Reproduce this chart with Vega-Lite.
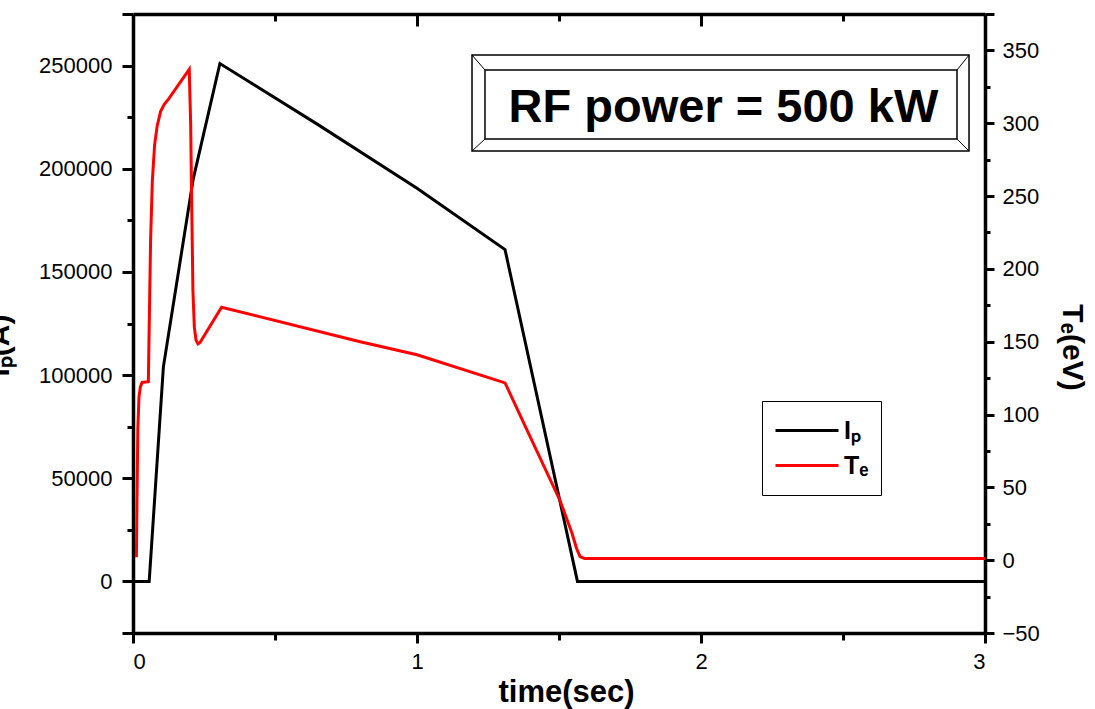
{
  "$schema": "https://vega.github.io/schema/vega-lite/v6.json",
  "width": 852,
  "height": 619,
  "autosize": "none",
  "padding": {"left": 133, "top": 14, "right": 110, "bottom": 76},
  "background": "white",
  "config": {
    "view": {"stroke": null},
    "axis": {
      "grid": false,
      "domainColor": "black",
      "domainWidth": 3.5,
      "tickColor": "black",
      "tickWidth": 3,
      "labelColor": "black",
      "labelFont": "Liberation Sans",
      "labelFontSize": 22,
      "titleColor": "black",
      "titleFont": "Liberation Sans",
      "titleFontWeight": "bold"
    }
  },
  "datasets": {
    "curves": [
      {"series": "Ip", "t": 0, "v": 0},
      {"series": "Ip", "t": 0.057, "v": 0},
      {"series": "Ip", "t": 0.107, "v": 104000},
      {"series": "Ip", "t": 0.212, "v": 195000},
      {"series": "Ip", "t": 0.306, "v": 251000},
      {"series": "Ip", "t": 0.65, "v": 221500},
      {"series": "Ip", "t": 1.0, "v": 190500},
      {"series": "Ip", "t": 1.31, "v": 160800},
      {"series": "Ip", "t": 1.565, "v": 0},
      {"series": "Ip", "t": 3.0, "v": 0},
      {"series": "Te", "t": 0.012, "v": 2},
      {"series": "Te", "t": 0.014, "v": 40},
      {"series": "Te", "t": 0.017, "v": 90},
      {"series": "Te", "t": 0.021, "v": 112},
      {"series": "Te", "t": 0.026, "v": 119},
      {"series": "Te", "t": 0.032, "v": 122},
      {"series": "Te", "t": 0.054, "v": 122.5},
      {"series": "Te", "t": 0.057, "v": 160},
      {"series": "Te", "t": 0.062, "v": 220},
      {"series": "Te", "t": 0.068, "v": 260},
      {"series": "Te", "t": 0.076, "v": 285},
      {"series": "Te", "t": 0.085, "v": 298},
      {"series": "Te", "t": 0.097, "v": 308},
      {"series": "Te", "t": 0.11, "v": 313},
      {"series": "Te", "t": 0.125, "v": 316.5},
      {"series": "Te", "t": 0.198, "v": 337},
      {"series": "Te", "t": 0.203, "v": 300},
      {"series": "Te", "t": 0.207, "v": 240},
      {"series": "Te", "t": 0.211, "v": 185},
      {"series": "Te", "t": 0.216, "v": 160},
      {"series": "Te", "t": 0.222, "v": 151},
      {"series": "Te", "t": 0.229, "v": 148.5},
      {"series": "Te", "t": 0.236, "v": 149.5},
      {"series": "Te", "t": 0.312, "v": 173.7},
      {"series": "Te", "t": 0.8, "v": 150},
      {"series": "Te", "t": 1.0, "v": 141},
      {"series": "Te", "t": 1.31, "v": 121.7},
      {"series": "Te", "t": 1.4085, "v": 80.5},
      {"series": "Te", "t": 1.5035, "v": 41},
      {"series": "Te", "t": 1.545, "v": 19},
      {"series": "Te", "t": 1.562, "v": 8},
      {"series": "Te", "t": 1.574, "v": 2.5},
      {"series": "Te", "t": 1.59, "v": 1.2},
      {"series": "Te", "t": 3.0, "v": 1.2}
    ],
    "box": [
      {"x0": 1.1937, "x1": 2.9437, "y0": 255114, "y1": 208589},
      {"x0": 1.2394, "x1": 2.9014, "y0": 247844, "y1": 214405}
    ],
    "diag": [
      {"x0": 1.1937, "y0": 255114, "x1": 1.2394, "y1": 247844},
      {"x0": 2.9437, "y0": 255114, "x1": 2.9014, "y1": 247844},
      {"x0": 1.1937, "y0": 208589, "x1": 1.2394, "y1": 214405},
      {"x0": 2.9437, "y0": 208589, "x1": 2.9014, "y1": 214405}
    ],
    "note": [
      {"t": 2.079, "v": 222645, "label": "RF power = 500 kW"}
    ]
  },
  "layer": [
    {
      "data": {"name": "curves"},
      "transform": [{"filter": "datum.series === 'Ip'"}],
      "mark": {"type": "line", "opacity": 0},
      "encoding": {
        "x": {"field": "t", "type": "quantitative", "scale": {"domain": [0, 3], "nice": false, "zero": false},
          "axis": {"orient": "bottom", "values": [0.5, 1.5, 2.5], "tickSize": 7, "labels": false, "domain": false, "title": null}},
        "y": {"field": "v", "type": "quantitative", "scale": {"domain": [-25000, 275000], "nice": false, "zero": false},
          "axis": {"orient": "left", "values": [25000, 75000, 125000, 175000, 225000], "tickSize": 6, "labels": false, "domain": false, "title": null}}
      }
    },
    {
      "data": {"name": "curves"},
      "transform": [{"filter": "datum.series === 'Te'"}],
      "mark": {"type": "line", "opacity": 0},
      "encoding": {
        "x": {"field": "t", "type": "quantitative", "scale": {"domain": [0, 3], "nice": false, "zero": false},
          "axis": {"orient": "top", "values": [0.5, 1.5, 2.5], "tickSize": -7, "labels": false, "domain": false, "title": null}},
        "y": {"field": "v", "type": "quantitative", "scale": {"domain": [-50, 375], "nice": false, "zero": false},
          "axis": {"orient": "right", "values": [-25, 25, 75, 125, 175, 225, 275, 325], "tickSize": 5, "labels": false, "domain": false, "title": null}}
      }
    },
    {
      "data": {"name": "box"},
      "mark": {"type": "rect", "filled": false, "stroke": "black", "strokeWidth": 1.5},
      "encoding": {
        "x": {"field": "x0", "type": "quantitative", "scale": {"domain": [0, 3], "nice": false, "zero": false}, "axis": null},
        "x2": {"field": "x1"},
        "y": {"field": "y0", "type": "quantitative", "scale": {"domain": [-25000, 275000], "nice": false, "zero": false}, "axis": null},
        "y2": {"field": "y1"}
      }
    },
    {
      "data": {"name": "diag"},
      "mark": {"type": "rule", "stroke": "black", "strokeWidth": 1},
      "encoding": {
        "x": {"field": "x0", "type": "quantitative", "scale": {"domain": [0, 3], "nice": false, "zero": false}, "axis": null},
        "x2": {"field": "x1"},
        "y": {"field": "y0", "type": "quantitative", "scale": {"domain": [-25000, 275000], "nice": false, "zero": false}, "axis": null},
        "y2": {"field": "y1"}
      }
    },
    {
      "data": {"name": "note"},
      "mark": {"type": "text", "font": "Liberation Sans", "fontWeight": "bold", "fontSize": 47, "align": "center", "baseline": "alphabetic", "color": "black"},
      "encoding": {
        "x": {"field": "t", "type": "quantitative", "scale": {"domain": [0, 3], "nice": false, "zero": false}, "axis": null},
        "y": {"field": "v", "type": "quantitative", "scale": {"domain": [-25000, 275000], "nice": false, "zero": false}, "axis": null},
        "text": {"field": "label"}
      }
    },
    {
      "data": {"name": "curves"},
      "transform": [{"filter": "datum.series === 'Ip'"}],
      "mark": {"type": "line", "strokeWidth": 3},
      "encoding": {
        "x": {"field": "t", "type": "quantitative", "scale": {"domain": [0, 3], "nice": false, "zero": false},
          "axis": {"orient": "bottom", "values": [0, 1, 2, 3], "format": "d", "tickSize": 10, "labelPadding": 8,
            "title": "time(sec)", "titleFontSize": 31, "titleX": 433, "titleY": 68, "titleAlign": "center", "titleBaseline": "alphabetic"}},
        "y": {"field": "v", "type": "quantitative", "scale": {"domain": [-25000, 275000], "nice": false, "zero": false},
          "axis": {"orient": "left", "values": [-25000, 0, 50000, 100000, 150000, 200000, 250000, 275000], "format": "d",
            "labelExpr": "datum.value % 50000 === 0 ? datum.label : ''", "tickSize": 11, "labelPadding": 10,
            "title": "Iₚ(A)", "titleFontSize": 30, "titleAngle": 270, "titleX": -125, "titleY": 331, "titleAlign": "center", "titleBaseline": "alphabetic"}},
        "color": {"field": "series", "type": "nominal", "scale": {"domain": ["Ip", "Te"], "range": ["black", "#ff0000"]},
          "legend": {"orient": "none", "legendX": 629, "legendY": 387, "title": null, "symbolType": "stroke", "symbolSize": 3969,
            "symbolStrokeWidth": 3, "labelExpr": "datum.value === 'Ip' ? 'Iₚ' : 'Tₑ'", "labelFont": "Liberation Sans",
            "labelFontWeight": "bold", "labelFontSize": 25, "labelColor": "black", "labelOffset": 4, "strokeColor": "black",
            "padding": 12, "clipHeight": 35, "rowPadding": 0, "fillColor": "white"}}
      }
    },
    {
      "data": {"name": "curves"},
      "transform": [{"filter": "datum.series === 'Te'"}],
      "mark": {"type": "line", "strokeWidth": 3},
      "encoding": {
        "x": {"field": "t", "type": "quantitative", "scale": {"domain": [0, 3], "nice": false, "zero": false},
          "axis": {"orient": "top", "values": [0, 1, 2, 3], "tickSize": -12, "labels": false, "title": null}},
        "y": {"field": "v", "type": "quantitative", "scale": {"domain": [-50, 375], "nice": false, "zero": false},
          "axis": {"orient": "right", "values": [-50, 0, 50, 100, 150, 200, 250, 300, 350, 375], "format": "d",
            "labelExpr": "datum.value === 375 ? '' : datum.label", "tickSize": 9, "labelPadding": 8,
            "title": "Tₑ(eV)", "titleFontSize": 30, "titleAngle": 90, "titleX": 77, "titleY": 333, "titleAlign": "center", "titleBaseline": "alphabetic"}},
        "color": {"field": "series", "type": "nominal", "scale": {"domain": ["Ip", "Te"], "range": ["black", "#ff0000"]}}
      }
    }
  ],
  "resolve": {"scale": {"y": "independent"}, "axis": {"x": "independent", "y": "independent"}}
}
